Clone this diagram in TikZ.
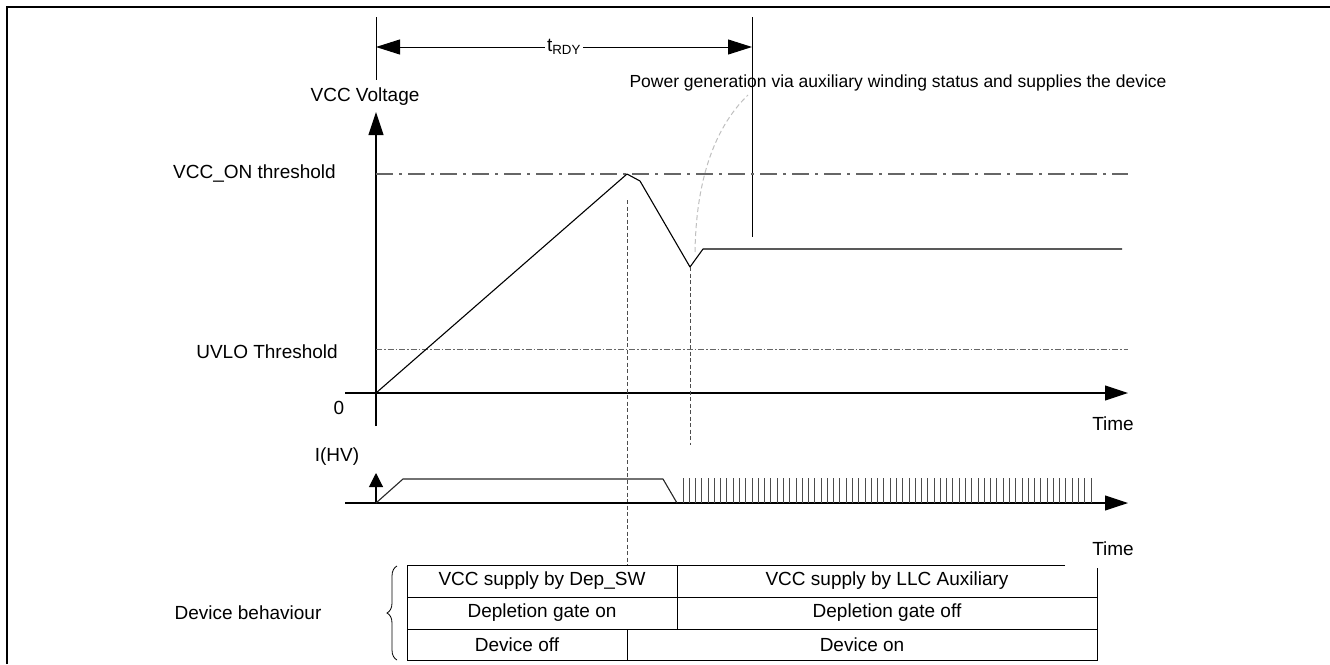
\documentclass[tikz,border=0pt]{standalone}
\usepackage{fontspec}
\setmainfont{Liberation Sans}
\usetikzlibrary{arrows.meta,decorations.pathreplacing}
\begin{document}
\begin{tikzpicture}[x=1pt,y=-1pt,
  lbl/.style={font=\fontsize{19}{22}\selectfont, inner sep=0pt},
  note/.style={font=\fontsize{17.5}{20}\selectfont, inner sep=0pt},
  wave/.style={line width=1.1pt, line join=round},
  axisarrow/.style={line width=1.1pt, -{Triangle[length=23pt,width=15pt]}},
  thinline/.style={line width=1pt},
  dimarrow/.style={line width=1pt, {Triangle[length=24pt,width=15pt]}-{Triangle[length=24pt,width=15pt]}},
  onthr/.style={line width=1.3pt, black!60, dash pattern=on 17pt off 6pt on 3pt off 6pt},
  uvthr/.style={line width=0.8pt, black!60, dash pattern=on 6pt off 2pt on 1.5pt off 2pt},
  vdash/.style={line width=1pt, black!70, dash pattern=on 4pt off 2.5pt},
  leader/.style={line width=1pt, black!25, dash pattern=on 5pt off 3pt},
  pulse/.style={line width=0.9pt, black!70},
  tbl/.style={line width=1pt}
]
\useasboundingbox (0,0) rectangle (1330,664);
% frame
\draw[line width=2.5pt] (7,664) -- (7,7) -- (1330,7);

% t_RDY dimension
\coordinate (ta) at (376,17); \coordinate (tb) at (376,80);
\coordinate (tc) at (752,17); \coordinate (td) at (752,237);
\coordinate (tl) at (376,47); \coordinate (tr) at (752,47);
\draw[thinline] (ta) -- (tb);
\draw[thinline] (tc) -- (td);
\draw[dimarrow] (tl) -- (tr);
\node[lbl, fill=white, inner sep=2pt] (trdy) at (564,47) {t\textsubscript{RDY}};

% VCC axes
\coordinate (o) at (376,393);
\coordinate (vbot) at (376,426); \coordinate (vtop) at (376,112);
\coordinate (hl) at (345,393); \coordinate (hr) at (1128,393);
\draw[axisarrow] (vbot) -- (vtop);
\draw[axisarrow] (hl) -- (hr);
\node[lbl] (vccv) at (365,97) {VCC Voltage};
\node[lbl, anchor=east] (vccon) at (336,174) {VCC\_ON threshold};
\node[lbl, anchor=east] (uvlo) at (338,352) {UVLO Threshold};
\node[lbl] (zero) at (339,408) {0};
\node[lbl] (time1) at (1113,424) {Time};

% thresholds
\coordinate (on1) at (376,174); \coordinate (on2) at (1128,174);
\coordinate (uv1) at (376,349); \coordinate (uv2) at (1128,349);
\draw[onthr] (on1) -- (on2);
\draw[uvthr] (uv1) -- (uv2);

% VCC curve
\coordinate (pk) at (627,174);
\coordinate (k1) at (640,181);
\coordinate (vl) at (690,267);
\coordinate (k2) at (703,249);
\coordinate (ve) at (1122,249);
\draw[wave] (o) -- (pk) -- (k1) -- (vl) -- (k2) -- (ve);

% dashed verticals
\coordinate (d1a) at (627,200); \coordinate (d1b) at (627,566);
\coordinate (d2b) at (690,445);
\draw[vdash] (d1a) -- (d1b);
\draw[vdash] (vl) -- (d2b);

% annotation
\node[note] (pg) at (898,83) {Power generation via auxiliary winding status and supplies the device};
\coordinate (ld) at (695,252);
\coordinate (lu) at (748,95);
\draw[leader] (ld) .. controls (696,185) and (712,130) .. (lu);

% current
\node[lbl] (ihv) at (337,457) {I(HV)};
\coordinate (il) at (345,503); \coordinate (ir) at (1128,503);
\draw[axisarrow] (il) -- (ir);
\coordinate (i0) at (376,503); \coordinate (iu) at (376,473);
\draw[line width=1.1pt, -{Triangle[length=14pt,width=14pt]}] (i0) -- (iu);
\coordinate (c1) at (403,479); \coordinate (c2) at (663,479); \coordinate (c3) at (677,503);
\draw[wave, black!85] (i0) -- (c1) -- (c2) -- (c3);
\foreach \i in {0,...,65} \draw[pulse] ({683+\i*6.277},503) -- ++(0,-25);
\node[lbl] (time2) at (1113,549) {Time};

% table
\coordinate (t1) at (1065,565); \coordinate (t2) at (407,565);
\coordinate (t3) at (407,660); \coordinate (t4) at (1097,660); \coordinate (t5) at (1097,568);
\draw[tbl] (t1) -- (t2) -- (t3) -- (t4) -- (t5);
\draw[tbl] (407,597) -- (1097,597);
\draw[tbl] (407,629) -- (1097,629);
\draw[tbl] (677,565) -- (677,629);
\draw[tbl] (627,629) -- (627,660);
\node[lbl] (r1a) at (542,581) {VCC supply by Dep\_SW};
\node[lbl] (r1b) at (887,581) {VCC supply by LLC Auxiliary};
\node[lbl] (r2a) at (542,613) {Depletion gate on};
\node[lbl] (r2b) at (887,613) {Depletion gate off};
\node[lbl] (r3a) at (517,645) {Device off};
\node[lbl] (r3b) at (862,645) {Device on};

% brace
\coordinate (b1) at (397,660); \coordinate (b2) at (397,566);
\draw[decorate, decoration={brace, amplitude=10pt}, line width=0.8pt] (b1) -- (b2);
\node[lbl] (db) at (248,613) {Device behaviour};
\end{tikzpicture}
\end{document}
